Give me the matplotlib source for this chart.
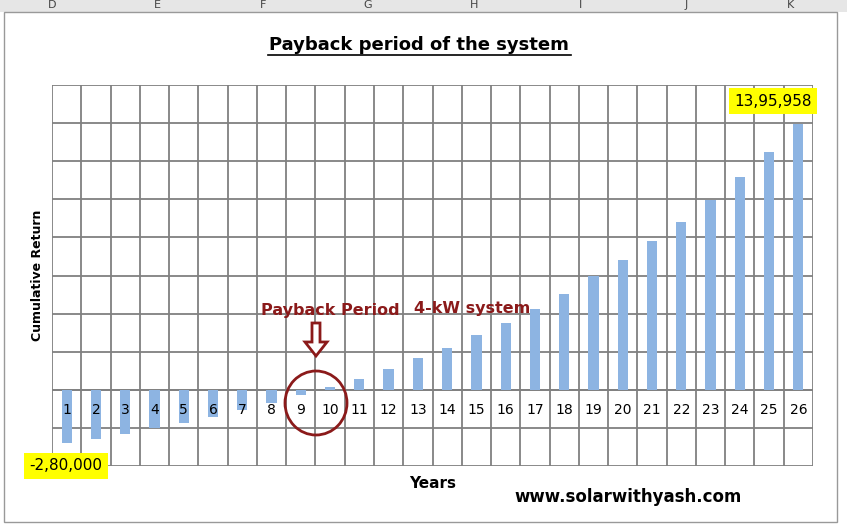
import numpy as np
import matplotlib.pyplot as plt
from matplotlib.patches import Ellipse, FancyArrow, Rectangle

years = list(range(1, 27))
cum_return = [-280000, -256000, -230000, -200000, -172000, -141000, -105000, -68000,
              -26000, 16000, 57000, 110000, 167000, 220000, 288000, 350000, 423000,
              502000, 596000, 680000, 779000, 883000, 998000, 1119000, 1250000, 1395958]
col_letters = ['D', 'E', 'F', 'G', 'H', 'I', 'J', 'K']

W, H = 847, 531
fig = plt.figure(figsize=(W / 100, H / 100), dpi=100)

def fx(px): return px / W
def fy(py): return 1 - py / H

# excel header strip
fig.patches.append(Rectangle((0, fy(12)), 1, 12 / H, transform=fig.transFigure,
                             facecolor='#e6e6e6', edgecolor='none'))
col_x = [52, 157, 263, 368, 474, 580, 686, 790]
for letter, cx in zip(col_letters, col_x):
    fig.text(fx(cx), fy(5), letter, ha='center', va='center', fontsize=8, color='#444444')
# chart border
fig.patches.append(Rectangle((fx(4), fy(522)), fx(833), 510 / H, transform=fig.transFigure,
                             facecolor='none', edgecolor='#999999', lw=1))

ax = fig.add_axes([fx(52), fy(466), fx(813 - 52), (466 - 85) / H])
x = np.arange(len(years))
ax.bar(x, cum_return, width=0.35, color='#8db4e2', zorder=3)
ax.set_xlim(-0.5, len(years) - 0.5)
ax.set_ylim(-400000, 1600000)
ax.set_yticks(np.arange(-400000, 1600001, 200000))
ax.set_xticks(np.arange(-0.5, len(years), 1))
ax.grid(True, color='#808080', lw=1.3, zorder=0)
ax.tick_params(length=0, labelleft=False, labelbottom=False)
for s in ax.spines.values():
    s.set_visible(False)
ax.axhline(0, color='#808080', lw=1.3, zorder=1)
for xi, yr, v in zip(x, years, cum_return):
    ax.text(xi, -105000, str(yr), ha='center', va='center', fontsize=10, zorder=4,
            bbox=dict(facecolor='white', edgecolor='none', pad=0.5) if v > 0 else None)

# value labels
fig.text(fx(773), fy(101), '13,95,958', ha='center', va='center', fontsize=11,
         bbox=dict(facecolor='#ffff00', edgecolor='none', pad=4))
fig.text(fx(66), fy(466), '-2,80,000', ha='center', va='center', fontsize=11,
         bbox=dict(facecolor='#ffff00', edgecolor='none', pad=4))

red = '#8b1a1a'
fig.patches.append(Ellipse((fx(316), fy(403)), 62 / W, 64 / H, transform=fig.transFigure,
                           facecolor='none', edgecolor=red, lw=2, zorder=10))
fig.patches.append(FancyArrow(fx(316), fy(323), 0, -33 / H, width=8 / W, head_width=22 / W,
                              head_length=14 / H, length_includes_head=True,
                              transform=fig.transFigure, facecolor='white', edgecolor=red,
                              lw=2, zorder=10))
fig.text(fx(330), fy(310), 'Payback Period', ha='center', va='center', fontsize=11.5,
         fontweight='bold', color=red)
fig.text(fx(472), fy(308), '4-kW system', ha='center', va='center', fontsize=11.5,
         fontweight='bold', color=red)

fig.text(fx(419), fy(45), 'Payback period of the system', ha='center', va='center',
         fontsize=13, fontweight='bold')
fig.lines.append(plt.Line2D([fx(268), fx(571)], [fy(55), fy(55)], transform=fig.transFigure,
                            color='black', lw=1.2))
fig.text(fx(38), fy(275), 'Cumulative Return', rotation=90, ha='center', va='center',
         fontsize=9, fontweight='bold')
fig.text(fx(433), fy(483), 'Years', ha='center', va='center', fontsize=11, fontweight='bold')
fig.text(fx(628), fy(497), 'www.solarwithyash.com', ha='center', va='center', fontsize=12,
         fontweight='bold')

fig.savefig('out.png', dpi=100)
